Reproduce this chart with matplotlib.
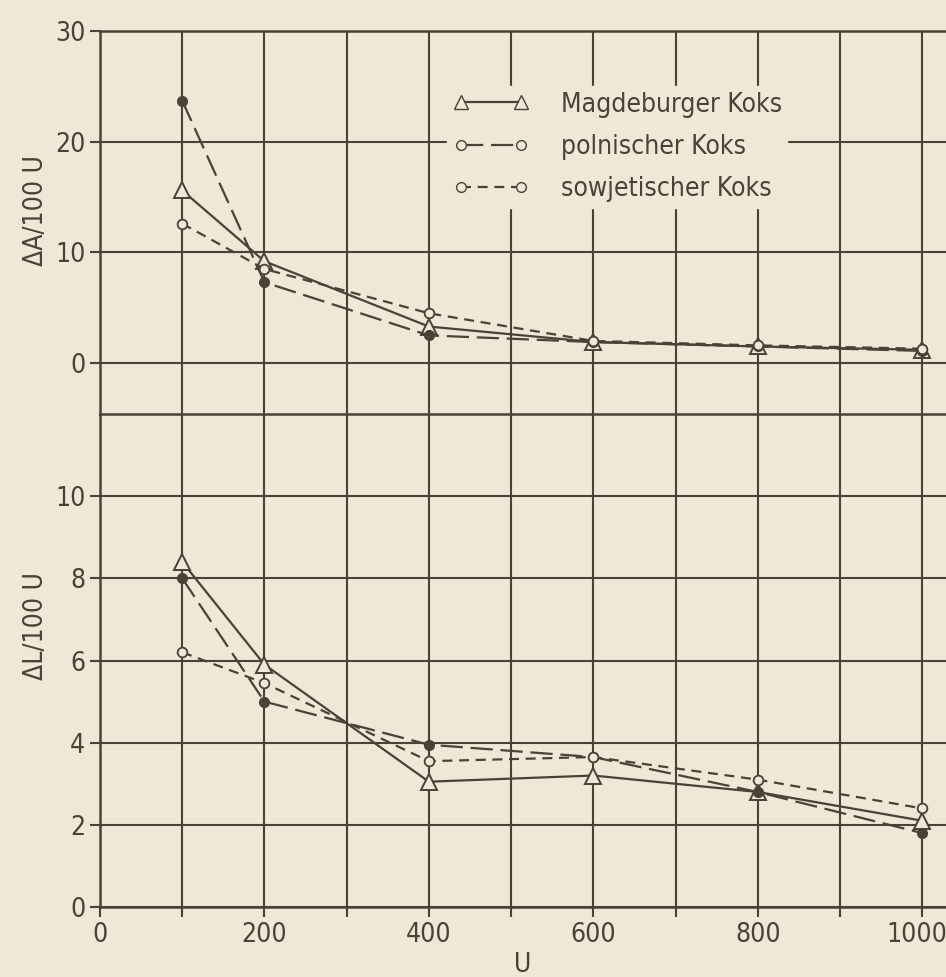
import numpy as np
import matplotlib
matplotlib.use("Agg")
import matplotlib.pyplot as plt
import matplotlib.transforms as mtransforms
from matplotlib.lines import Line2D
from matplotlib.ticker import MultipleLocator

u = [100, 200, 400, 600, 800, 1000]

# Abrieb  dA/100U
dA_magdeburg = [15.6, 9.2, 3.3, 1.9, 1.5, 1.2]
dA_polen = [23.7, 7.3, 2.5, 1.9, 1.5, 1.1]
dA_sowjet = [12.6, 8.5, 4.5, 2.0, 1.6, 1.3]

# Laenge  dL/100U
dL_magdeburg = [8.4, 5.9, 3.05, 3.2, 2.8, 2.1]
dL_polen = [8.0, 5.0, 3.95, 3.65, 2.8, 1.8]
dL_sowjet = [6.2, 5.45, 3.55, 3.65, 3.1, 2.4]

labels = ["Magdeburger Koks", "polnischer Koks", "sowjetischer Koks"]

BG = "#eee8d6"
INK = "#4a4237"
plt.rcParams["font.family"] = ["DejaVu Sans"]
plt.rcParams["font.stretch"] = "condensed"

fig = plt.figure(figsize=(9.46, 9.77), dpi=100, facecolor=BG)
W, H = 946, 977
left, right = 100 / W, 1.0
y_top, y_mid, y_bot = 1 - 31 / H, 1 - 414 / H, 1 - 907 / H

ax1 = fig.add_axes([left, y_mid, right - left, y_top - y_mid])
ax2 = fig.add_axes([left, y_bot, right - left, y_mid - y_bot], sharex=ax1)

lw = 1.6
long_dash = (0, (10, 3.5))
short_dash = (0, (4.5, 3))


def draw(ax, mag, pol, sow):
    ax.plot(u, mag, color=INK, lw=lw, ls="-", marker="^", ms=12,
            mfc=BG, mec=INK, mew=1.4, zorder=5)
    ax.plot(u, pol, color=INK, lw=lw, ls=long_dash, marker="o", ms=7,
            mfc=INK, mec=INK, zorder=5)
    ax.plot(u, sow, color=INK, lw=lw, ls=short_dash, marker="o", ms=7,
            mfc=BG, mec=INK, mew=1.3, zorder=5)


draw(ax1, dA_magdeburg, dA_polen, dA_sowjet)
draw(ax2, dL_magdeburg, dL_polen, dL_sowjet)

for ax in (ax1, ax2):
    ax.set_facecolor(BG)
    ax.set_xlim(0, 1029)
    ax.xaxis.set_major_locator(MultipleLocator(200))
    ax.xaxis.set_minor_locator(MultipleLocator(100))
    ax.grid(True, which="both", axis="x", color=INK, lw=1.5)
    ax.grid(True, which="major", axis="y", color=INK, lw=1.5)
    ax.spines["right"].set_visible(False)
    for s in ("left", "top", "bottom"):
        ax.spines[s].set_color(INK)
        ax.spines[s].set_linewidth(1.8)
    ax.tick_params(which="both", direction="out", length=7, width=1.5,
                   color=INK, labelcolor=INK, labelsize=19)
    ax.set_axisbelow(True)

ax1.set_ylim(-4.6, 30)
ax1.set_yticks([0, 10, 20, 30])
ax1.tick_params(axis="x", which="both", length=0, labelbottom=False)
ax1.spines["bottom"].set_visible(False)

ax2.set_ylim(0, 12)
ax2.set_yticks([0, 2, 4, 6, 8, 10])
ax2.set_xticks([0, 200, 400, 600, 800, 1000])

ax1.set_ylabel("ΔA/100 U", fontsize=19, color=INK)
ax1.yaxis.set_label_coords(-0.06, 0.53)
ax2.set_ylabel("ΔL/100 U", fontsize=19, color=INK)
ax2.yaxis.set_label_coords(-0.06, 0.57)
ax2.set_xlabel("U", fontsize=19, color=INK, labelpad=3)

# keep "1000" inside the figure edge
fig.canvas.draw()
last = ax2.get_xticklabels()[-1]
last.set_transform(last.get_transform() +
                   mtransforms.ScaledTranslation(-5 / 100, 0, fig.dpi_scale_trans))

handles = [
    Line2D([], [], color=INK, lw=lw, ls="-", marker="^", ms=10, mfc=BG, mec=INK),
    Line2D([], [], color=INK, lw=lw, ls=long_dash, marker="o", ms=7, mfc=BG, mec=INK),
    Line2D([], [], color=INK, lw=lw, ls=short_dash, marker="o", ms=7, mfc=BG, mec=INK),
]
leg = ax1.legend(handles, labels, loc="upper left", bbox_to_anchor=(0.395, 0.89),
                 fontsize=19, numpoints=2, handlelength=2.9, handletextpad=1.2,
                 labelspacing=0.62, frameon=True, facecolor=BG, edgecolor=BG,
                 framealpha=1.0, borderpad=0.2, fancybox=False)
for t in leg.get_texts():
    t.set_color(INK)
leg.set_zorder(4)

fig.savefig("out.png", dpi=100, facecolor=BG)
